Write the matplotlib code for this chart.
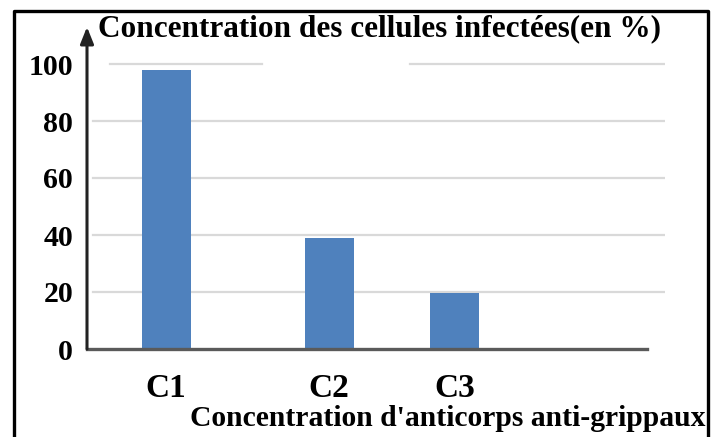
import matplotlib
matplotlib.use("Agg")
from matplotlib import pyplot as plt
import matplotlib.transforms as mtransforms

categories = ["C1", "C2", "C3"]
values = [98, 39, 19.5]
yticks = [0, 20, 40, 60, 80, 100]

title = "Concentration des cellules infectées(en %)"
xlabel = "Concentration d'anticorps anti-grippaux"

W, H = 715, 437
positions = [0, 1, 1.77]
bar_color = "#4F81BD"
grid_color = "#D9D9D9"
axis_color = "#5A5A5A"

plt.rcParams['font.family'] = ['Liberation Serif', 'DejaVu Serif']
plt.rcParams['font.weight'] = 'bold'

fig = plt.figure(figsize=(W / 100, H / 100), dpi=100)

# axes box in pixels: left 87, right 665, bottom 349, top 35.5
ax = fig.add_axes([87 / W, (H - 349) / H, (665 - 87) / W, (349 - 35.5) / H])
ax.set_xlim(-0.485, 3.06)
ax.set_ylim(0, 110)

ax.bar(positions, values, width=0.3, color=bar_color, zorder=3)

# gridlines
trans = mtransforms.blended_transform_factory(ax.transAxes, ax.transData)
for v in yticks[1:-1]:
    ax.plot([6 / 578, 1], [v, v], transform=trans, color=grid_color, lw=1.6, zorder=1)
ax.plot([23 / 578, 175 / 578], [100, 100], transform=trans, color=grid_color, lw=1.6, zorder=1)
ax.plot([323 / 578, 1], [100, 100], transform=trans, color=grid_color, lw=1.6, zorder=1)

for s in ["top", "right", "left"]:
    ax.spines[s].set_visible(False)
ax.spines["bottom"].set_color(axis_color)
ax.spines["bottom"].set_linewidth(2.4)
ax.spines["bottom"].set_bounds(-0.485, 3.06 - 18 / 163)
ax.spines["bottom"].set_zorder(4)

# y axis with arrow
ax.annotate("", xy=(0, 113), xytext=(0, 0), xycoords=trans, textcoords=trans,
            arrowprops=dict(arrowstyle="-|>,head_width=0.4,head_length=1.0",
                            color="#222222", lw=2.2, shrinkA=0, shrinkB=0),
            annotation_clip=False, zorder=5)

ax.set_yticks(yticks)
ax.set_yticklabels([str(t) for t in yticks], fontsize=21.5, fontweight='bold')
ax.set_xticks(positions)
ax.set_xticklabels(categories, fontsize=24, fontweight='bold')
ax.tick_params(axis='y', length=0, pad=10)
ax.tick_params(axis='x', length=0, pad=17)

fig.text(98 / W, 1 - 29 / H, title, fontsize=22.5, fontweight='bold',
         ha='left', va='center')
fig.text(705 / W, 1 - 419 / H, xlabel, fontsize=21.3, fontweight='bold',
         ha='right', va='center')

# black frame (no bottom side)
fig.add_artist(plt.Line2D([14 / W, 14 / W, 708 / W, 708 / W],
                          [0, 1 - 11 / H, 1 - 11 / H, 0],
                          transform=fig.transFigure, color='black', lw=2.4))

fig.savefig("out.png", dpi=100)
